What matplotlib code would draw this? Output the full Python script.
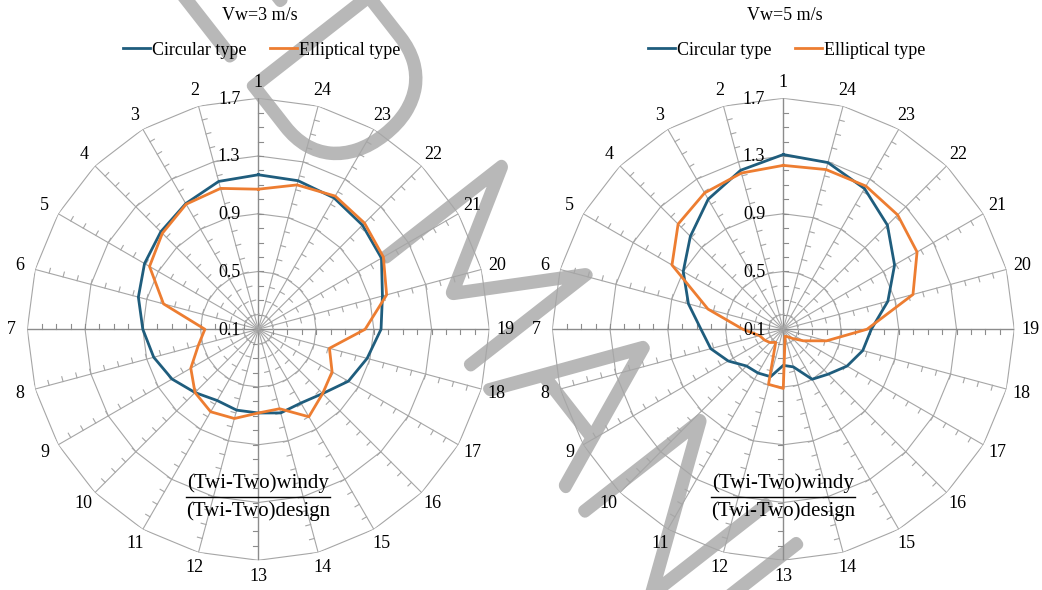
import numpy as np
import matplotlib
matplotlib.use("Agg")
import matplotlib.pyplot as plt
import matplotlib.patheffects as pe

plt.rcParams['font.family'] = ['Liberation Serif', 'DejaVu Serif']

# wind directions, counter-clockwise from the top
directions = [str(i) for i in range(1, 25)]

# normalised temperature difference, Vw = 3 m/s
circular_3 = [1.17, 1.16, 1.105, 1.055, 1.01, 0.96, 0.90, 0.85, 0.79, 0.72, 0.67, 0.68,
              0.68, 0.70, 0.69, 0.73, 0.82, 0.88, 0.95, 0.99, 1.085, 1.12, 1.15, 1.165]
elliptical_3 = [1.07, 1.11, 1.10, 1.04, 0.97, 0.78, 0.47, 0.53, 0.64, 0.72, 0.76, 0.74,
                0.68, 0.67, 0.80, 0.73, 0.69, 0.61, 0.84, 1.02, 1.10, 1.14, 1.165, 1.135]

# normalised temperature difference, Vw = 5 m/s
circular_5 = [1.31, 1.24, 1.14, 1.01, 0.90, 0.78, 0.67, 0.62, 0.54, 0.46, 0.45, 0.44,
              0.35, 0.37, 0.50, 0.54, 0.61, 0.67, 0.71, 0.85, 0.99, 1.12, 1.225, 1.295]
elliptical_5 = [1.235, 1.22, 1.19, 1.13, 0.99, 0.64, 0.38, 0.27, 0.25, 0.23, 0.205, 0.495,
                0.51, 0.15, 0.16, 0.19, 0.26, 0.41, 0.68, 1.03, 1.17, 1.22, 1.245, 1.245]

ring_values = [0.5, 0.9, 1.3, 1.7]
ring_labels = ['0.1', '0.5', '0.9', '1.3', '1.7']
R_MIN, R_MAX = 0.1, 1.7

BLUE = '#1f5d7d'
ORANGE = '#ed7d31'
GRID = '#a6a6a6'
AXIS = '#8c8c8c'
FS = 13


def radar(fig, rect, title, circ, ellip):
    ax = fig.add_axes(rect, projection='polar')
    ax.set_theta_zero_location('N')
    ax.set_theta_direction(1)
    ax.set_ylim(R_MIN, R_MAX)
    ax.grid(False)
    ax.set_xticks([])
    ax.set_yticks([])
    ax.spines['polar'].set_visible(False)
    ax.patch.set_visible(False)

    n = len(directions)
    theta = np.deg2rad(np.arange(n) * 360.0 / n)
    closed = np.append(theta, theta[0])

    # polygon rings
    for r in ring_values:
        ax.plot(closed, [r] * (n + 1), color=GRID, lw=0.8, zorder=1)

    # spokes with minor ticks on the clockwise side
    tick_len = 5.0 / 144.4
    minor = np.round(np.arange(0.2, 1.65, 0.1), 2)
    for k, t in enumerate(theta):
        main = k % 6 == 0
        ax.plot([t, t], [R_MIN, R_MAX], color=AXIS if main else GRID,
                lw=1.0 if main else 0.8, zorder=1)
        tt, rr = [], []
        for m in minor:
            d = m - R_MIN
            tt += [t, t - np.arctan(tick_len / d), np.nan]
            rr += [m, R_MIN + np.hypot(d, tick_len), np.nan]
        ax.plot(tt, rr, color=AXIS if main else GRID, lw=0.8, zorder=1)

    ax.plot(closed, list(circ) + [circ[0]], color=BLUE, lw=2.0, zorder=3,
            label='Circular type')
    ax.plot(closed, list(ellip) + [ellip[0]], color=ORANGE, lw=2.0, zorder=3,
            label='Elliptical type')

    for t, lab in zip(theta, directions):
        ax.text(t, 1.81, lab, ha='center', va='center', fontsize=FS, clip_on=False)

    for v, lab in zip([R_MIN] + ring_values, ring_labels):
        ax.annotate(lab, xy=(0, v), xytext=(-18, -1), textcoords='offset pixels',
                    ha='right', va='center', fontsize=FS, annotation_clip=False)

    cx = rect[0] + rect[2] / 2
    fig.text(cx + 0.001, 0.973, title, ha='center', va='center', fontsize=FS)
    fig.legend(handles=ax.get_lines()[-2:], loc='center', ncol=2,
               bbox_to_anchor=(cx + 0.003, 0.915), frameon=False, fontsize=FS,
               handlelength=1.5, handletextpad=0.1, columnspacing=1.3)

    # y label drawn as a stacked fraction below the centre
    fig.text(cx, 1 - 483 / 590, '(Twi-Two)windy', ha='center', va='center', fontsize=15)
    fig.text(cx, 1 - 511 / 590, '(Twi-Two)design', ha='center', va='center', fontsize=15)
    fig.add_artist(plt.Line2D([cx - 72 / 1042, cx + 72 / 1042], [1 - 497 / 590] * 2,
                              transform=fig.transFigure, color='black', lw=1.0))
    return ax


fig = plt.figure(figsize=(10.42, 5.90), dpi=100)

# publisher watermark behind the charts: thin glyphs thickened by a stroke
wm_gray = '#b8b8b8'
wm = dict(rotation=-52, rotation_mode='anchor', va='baseline', fontsize=152,
          color=wm_gray, family=['Lato', 'DejaVu Sans'], fontweight='light', zorder=-1,
          path_effects=[pe.withStroke(linewidth=8, foreground=wm_gray)])
fig.text(336 / 1042, 1 - 193 / 590, 'ACCEPTED', ha='right', **wm)
fig.text(370 / 1042, 1 - 237 / 590, 'MANUSCRIPT', ha='left', **wm)

radar(fig, [0.0262, 0.0504, 0.4434, 0.7831], 'Vw=3 m/s', circular_3, elliptical_3)
radar(fig, [0.5300, 0.0504, 0.4434, 0.7831], 'Vw=5 m/s', circular_5, elliptical_5)
fig.savefig('out.png', dpi=100)
